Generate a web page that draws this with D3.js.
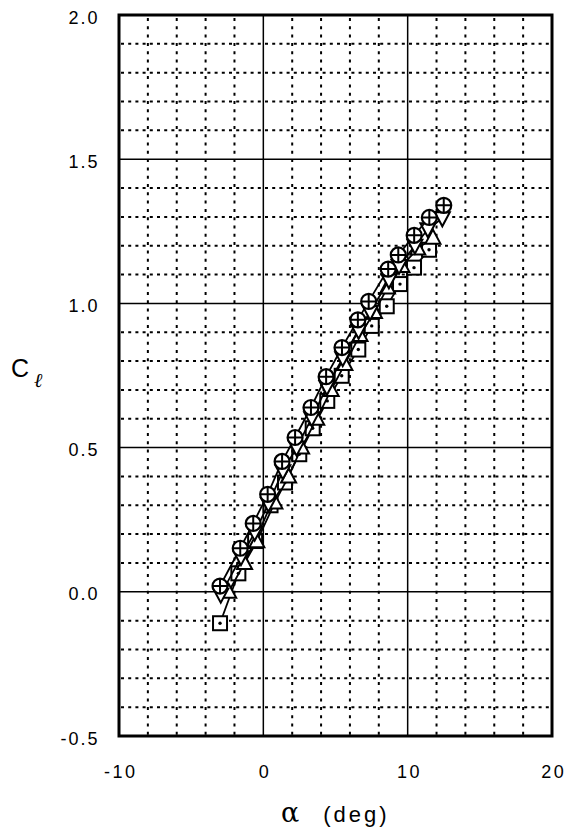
<!DOCTYPE html>
<html><head><meta charset="utf-8">
<script src="https://cdn.jsdelivr.net/npm/d3@7/dist/d3.min.js"></script>
<style>body{margin:0;background:#fff}svg{display:block}</style>
</head><body>
<svg id="c" width="569" height="833"></svg>
<script>
// ---- data ----
const xTickValues = [-10, 0, 10, 20];
const xTickLabels = ["-10", "0", "10", "20"];
const yTickValues = [-0.5, 0.0, 0.5, 1.0, 1.5, 2.0];
const yTickLabels = ["-0.5", "0.0", "0.5", "1.0", "1.5", "2.0"];

const squareAlpha = [-3.0, -1.73, -0.57, 0.5, 1.5, 2.49, 3.42, 4.43, 5.43, 6.58, 7.51, 8.55, 9.47, 10.44, 11.48];
const squareCl    = [-0.109, 0.064, 0.176, 0.30, 0.379, 0.477, 0.567, 0.662, 0.749, 0.84, 0.922, 0.99, 1.067, 1.124, 1.186];

const upAlpha = [-2.4, -1.3, -0.45, 0.8, 1.75, 2.65, 3.7, 4.7, 5.65, 6.7, 7.7, 8.6, 9.6, 10.7, 11.75];
const upCl    = [0.0, 0.10, 0.175, 0.31, 0.40, 0.50, 0.60, 0.70, 0.79, 0.89, 0.97, 1.055, 1.13, 1.19, 1.228];

const downAlpha = [-2.95, -1.55, -0.6, 0.35, 1.35, 2.3, 3.35, 4.4, 5.5, 6.6, 7.4, 8.7, 9.4, 10.5, 11.4, 12.4];
const downCl    = [-0.01, 0.12, 0.205, 0.305, 0.418, 0.5, 0.602, 0.71, 0.81, 0.905, 0.97, 1.08, 1.13, 1.2, 1.257, 1.295];

const circleAlpha = [-3.0, -1.6, -0.7, 0.3, 1.3, 2.2, 3.3, 4.35, 5.45, 6.55, 7.3, 8.65, 9.35, 10.45, 11.5, 12.5];
const circleCl    = [0.02, 0.151, 0.237, 0.338, 0.452, 0.535, 0.639, 0.746, 0.847, 0.943, 1.007, 1.119, 1.168, 1.236, 1.298, 1.34];

const minorX = [-8, -6, -4, -2, 2, 4, 6, 8, 12, 14, 16, 18];
const majorX = [0, 10];
const minorY = [-0.4,-0.3,-0.2,-0.1,0.1,0.2,0.3,0.4,0.6,0.7,0.8,0.9,1.1,1.2,1.3,1.4,1.6,1.7,1.8,1.9];
const majorY = [0, 0.5, 1.0, 1.5];

// ---- chart ----
const svg = d3.select("#c");
const x = d3.scaleLinear().domain([-10, 20]).range([119, 552]);
const y = d3.scaleLinear().domain([-0.5, 2.0]).range([736, 15]);
const font = "'Liberation Sans', Arial, sans-serif";

const grid = svg.append("g");
grid.selectAll(".mx").data(minorX).join("line")
  .attr("x1", d => x(d)).attr("x2", d => x(d)).attr("y1", y(2)).attr("y2", y(-0.5))
  .attr("stroke", "#000").attr("stroke-width", 2).attr("stroke-dasharray", "3,5.3")
  .attr("stroke-dashoffset", -3);
grid.selectAll(".my").data(minorY).join("line")
  .attr("y1", d => y(d)).attr("y2", d => y(d)).attr("x1", x(-10)).attr("x2", x(20))
  .attr("stroke", "#000").attr("stroke-width", 2).attr("stroke-dasharray", "3,4.2")
  .attr("stroke-dashoffset", -2);
grid.selectAll(".Mx").data(majorX).join("line")
  .attr("x1", d => x(d)).attr("x2", d => x(d)).attr("y1", y(2)).attr("y2", y(-0.5))
  .attr("stroke", "#000").attr("stroke-width", 1.5);
grid.selectAll(".My").data(majorY).join("line")
  .attr("y1", d => y(d)).attr("y2", d => y(d)).attr("x1", x(-10)).attr("x2", x(20))
  .attr("stroke", "#000").attr("stroke-width", 1.5);

// series
const line = d3.line().x(d => x(d[0])).y(d => y(d[1]));
function series(al, cl, drawMarker) {
  const pts = al.map((a, i) => [a, cl[i]]);
  const g = svg.append("g");
  g.append("path").attr("d", line(pts)).attr("fill", "none").attr("stroke", "#000").attr("stroke-width", 1.8);
  const m = g.selectAll("g").data(pts).join("g")
    .attr("transform", d => `translate(${x(d[0])},${y(d[1])})`);
  drawMarker(m);
}
series(squareAlpha, squareCl, m => {
  m.append("rect").attr("x", -7).attr("y", -7).attr("width", 14).attr("height", 14)
    .attr("fill", "#fff").attr("stroke", "#000").attr("stroke-width", 2);
  m.append("circle").attr("r", 1.7).attr("fill", "#000");
});
series(upAlpha, upCl, m => {
  m.append("path").attr("d", "M-7.5,6L7.5,6L0,-8Z")
    .attr("fill", "#fff").attr("stroke", "#000").attr("stroke-width", 2);
});
series(downAlpha, downCl, m => {
  m.append("path").attr("d", "M-7.5,-6L7.5,-6L0,8Z")
    .attr("fill", "#fff").attr("stroke", "#000").attr("stroke-width", 2);
});
series(circleAlpha, circleCl, m => {
  m.append("circle").attr("r", 7.5).attr("fill", "#fff").attr("stroke", "#000").attr("stroke-width", 2.2);
  m.append("path").attr("d", "M-7.5,0H7.5M0,-7.5V7.5").attr("stroke", "#000").attr("stroke-width", 2);
});

// frame
svg.append("rect").attr("x", x(-10)).attr("y", y(2)).attr("width", x(20) - x(-10)).attr("height", y(-0.5) - y(2))
  .attr("fill", "none").attr("stroke", "#000").attr("stroke-width", 3);

// axes (labels only)
const xa = svg.append("g").attr("transform", `translate(0,${y(-0.5)})`)
  .call(d3.axisBottom(x).tickValues(xTickValues).tickSize(0).tickPadding(0)
    .tickFormat((d, i) => xTickLabels[i]));
xa.select(".domain").remove();
xa.selectAll("text").attr("y", 42).attr("dy", null).attr("fill", "#000")
  .attr("font-family", font).attr("font-size", 18).attr("letter-spacing", "2.5px")
  .attr("dx", "1.25px");

const ya = svg.append("g").attr("transform", `translate(${x(-10)},0)`)
  .call(d3.axisLeft(y).tickValues(yTickValues).tickSize(0).tickPadding(0)
    .tickFormat((d, i) => yTickLabels[i]));
ya.select(".domain").remove();
ya.selectAll("text").attr("x", -19.5).attr("dy", null).attr("y", 8).attr("fill", "#000")
  .attr("font-family", font).attr("font-size", 18).attr("letter-spacing", "2px");

// axis titles
const xt = svg.append("text").attr("x", 281).attr("y", 822).attr("fill", "#000");
xt.append("tspan").attr("font-family", "'DejaVu Serif', serif").attr("font-size", 27).text("α");
xt.append("tspan").attr("dx", 24).attr("font-family", font).attr("font-size", 22).attr("letter-spacing", "3px").text("(deg)");

const yt = svg.append("text").attr("x", 11).attr("y", 377).attr("fill", "#000");
yt.append("tspan").attr("font-family", font).attr("font-size", 25).text("C");
yt.append("tspan").attr("dx", 5).attr("dy", 10).attr("font-family", "'DejaVu Serif', serif").attr("font-style", "italic").attr("font-size", 20).text("ℓ");
</script>
</body></html>
